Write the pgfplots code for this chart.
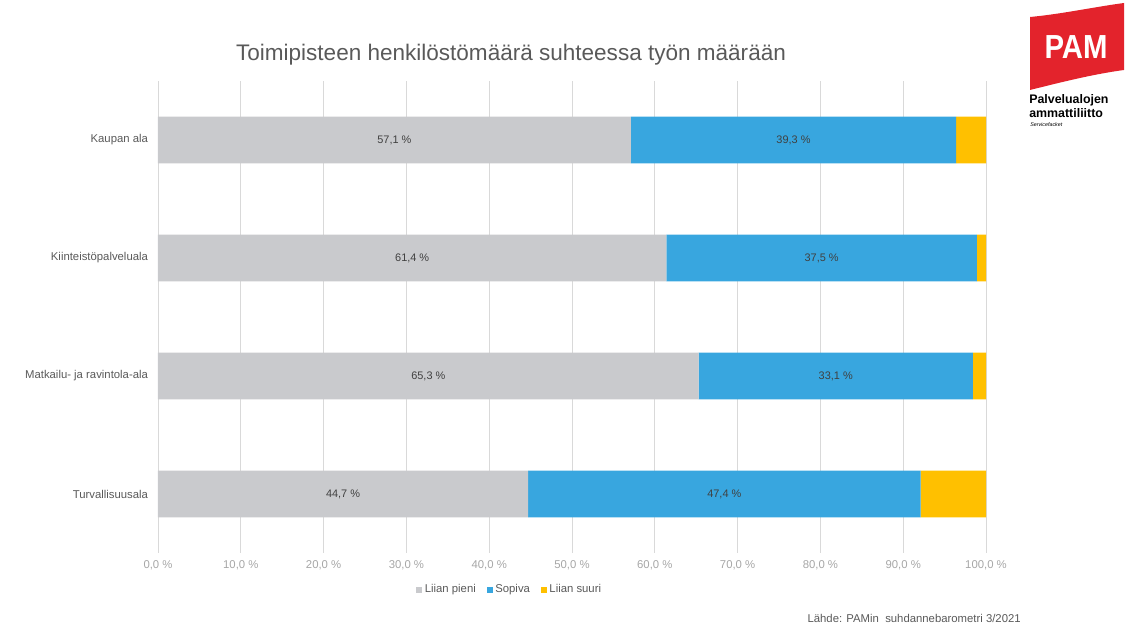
\documentclass[border=0pt]{standalone}
\usepackage{pgfplots}
\usepackage{pgfplotstable}
\pgfplotsset{compat=1.18}
\usepackage{fontspec}
\setmainfont{Liberation Sans}
\definecolor{cgray}{HTML}{C9CACD}
\definecolor{cblue}{HTML}{38A6DF}
\definecolor{cyel}{HTML}{FFC000}
\definecolor{ctxt}{HTML}{595959}
\definecolor{clab}{HTML}{404040}
\definecolor{ctick}{HTML}{A6A6A6}
\definecolor{cgrid}{HTML}{D9D9D9}
\definecolor{pamred}{HTML}{E3232C}

\pgfplotstableread{
y pieni sopiva suuri
0 44.7 47.4 7.9
1 65.3 33.1 1.6
2 61.4 37.5 1.1
3 57.1 39.3 3.6
}\data

\begin{document}
\begin{tikzpicture}
\useasboundingbox (0,0) rectangle (846.75pt,468.75pt);
\begin{axis}[
  at={(118.5pt,54pt)}, anchor=south west,
  scale only axis, width=621pt, height=354pt,
  xbar stacked, bar width=35pt,
  xmin=0, xmax=100, ymin=-0.5, ymax=3.5,
  ytick={0,1,2,3},
  yticklabels={Turvallisuusala, Matkailu- ja ravintola-ala, Kiinteistöpalveluala, Kaupan ala},
  xtick={0,10,...,100},
  /pgf/number format/assume math mode=true,
  xticklabel={\pgfmathprintnumber[fixed,fixed zerofill,precision=1,use comma]{\tick}~\%},
  axis line style={draw=none},
  major tick style={draw=none},
  xmajorgrids, grid style={cgrid, line width=0.6pt},
  x tick label style={font=\fontsize{8.5}{10}\selectfont, text=ctick, yshift=-2pt},
  y tick label style={font=\fontsize{8.5}{10}\selectfont, text=ctxt, xshift=-4pt},
  legend columns=3,
  legend style={at={(0.425,-0.078)}, anchor=center, draw=none, fill=none,
    font=\fontsize{8.5}{10}\selectfont, text=ctxt,
    /tikz/every even column/.append style={column sep=6pt}},
  legend image code/.code={\fill[#1] (0pt,-2.3pt) rectangle (4.6pt,2.3pt);},
  every node near coord/.append style={anchor=center, font=\fontsize{8.2}{10}\selectfont, text=clab},
]
\addplot[fill=cgray, draw=none,
  nodes near coords={\pgfmathprintnumber[fixed,fixed zerofill,precision=1,use comma]{\pgfplotspointmeta}~\%},
  point meta=\thisrow{pieni}]
  table[x=pieni, y=y] {\data};
\addlegendentry{Liian pieni}
\addplot[fill=cblue, draw=none,
  nodes near coords={\pgfmathprintnumber[fixed,fixed zerofill,precision=1,use comma]{\pgfplotspointmeta}~\%},
  point meta=\thisrow{sopiva}]
  table[x=sopiva, y=y] {\data};
\addlegendentry{Sopiva}
\addplot[fill=cyel, draw=none] table[x=suuri, y=y] {\data};
\addlegendentry{Liian suuri}
\end{axis}

\begin{scope}[x=0.75pt, y=-0.75pt, yshift=468.75pt]
  \node[text=ctxt, font=\fontsize{16.9}{19}\selectfont] at (511,55) {Toimipisteen henkilöstömäärä suhteessa työn määrään};
  \node[text=ctxt, font=\fontsize{8.5}{10}\selectfont, anchor=base east, inner sep=0pt] at (1021,623) {Lähde: PAMin\ \ suhdannebarometri 3/2021};
  % logo
  \fill[pamred] (1030,17) .. controls (1062,14) and (1094,7) .. (1124,3) -- (1124,70)
     .. controls (1094,74) and (1062,82) .. (1030,90) -- cycle;
  \node[text=white, font=\bfseries\fontsize{25}{27}\selectfont, xscale=0.88] at (1076,47) {PAM};
  \node[anchor=west, inner sep=0pt, font=\bfseries\fontsize{9.3}{11}\selectfont] at (1029,100) {Palvelualojen};
  \node[anchor=west, inner sep=0pt, font=\bfseries\fontsize{9.3}{11}\selectfont] at (1029,113) {ammattiliitto};
  \node[anchor=west, inner sep=0pt, font=\itshape\fontsize{4}{5}\selectfont] at (1030,125) {Servicefacket};
\end{scope}
\end{tikzpicture}
\end{document}
